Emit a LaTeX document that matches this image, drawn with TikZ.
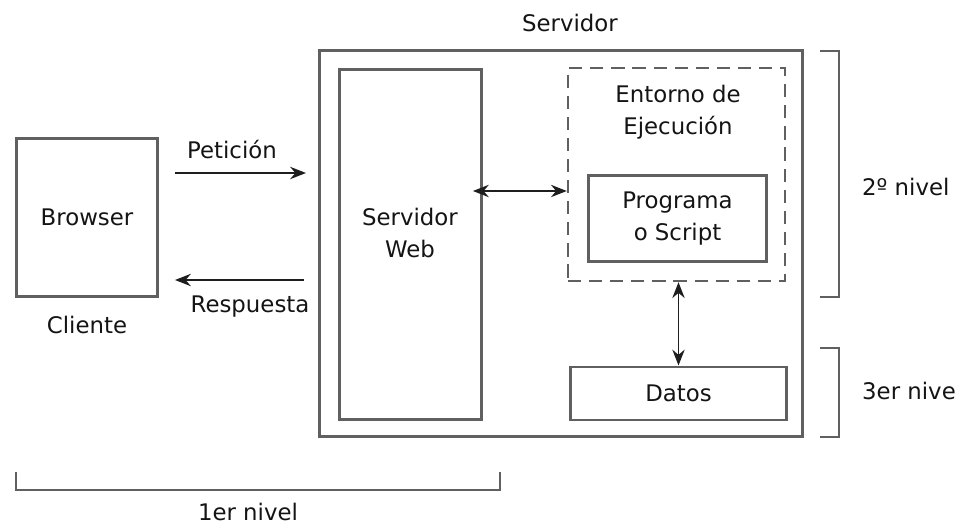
\documentclass[tikz,border=0pt]{standalone}
\usepackage{fontspec}
\setmainfont{DejaVu Sans}
\usepackage{xcolor}
\usetikzlibrary{arrows.meta}
\definecolor{boxgray}{RGB}{96, 96, 96}
\definecolor{txtgray}{RGB}{20, 20, 20}
\definecolor{arrgray}{RGB}{30, 30, 30}

\begin{document}
\begin{tikzpicture}[x=0.02cm, y=-0.02cm,
  every node/.style={font=\fontsize{13}{18}\selectfont, text=txtgray},
  box/.style={draw=boxgray, line width=1.7pt, inner sep=0pt, rectangle},
  envbox/.style={draw=boxgray, line width=1.4pt, dash pattern=on 7.5pt off 4.5pt, inner sep=0pt},
  flow/.style={draw=arrgray, line width=1.1pt, -{Stealth[length=9pt, width=7pt]}},
  dflow/.style={draw=arrgray, line width=1.1pt, {Stealth[length=9pt, width=7pt]}-{Stealth[length=9pt, width=7pt]}},
  brace/.style={draw=boxgray, line width=1.6pt}]
\useasboundingbox (0,0) rectangle (958,527);

% Cliente
\node[box, minimum width=2.84cm, minimum height=3.18cm] (browser) at (87,217.5) {Browser};
\node (cliente) at (87,325) {Cliente};

% Servidor
\node[box, minimum width=9.68cm, minimum height=7.74cm] (servidor) at (561,243.5) {};
\node (servlbl) at (570,23) {Servidor};
\node[box, minimum width=2.86cm, minimum height=7.02cm] (web) at (410.5,244.5) {};
\node[align=center] (weblbl) at (410,233) {Servidor\\Web};
\node[envbox, minimum width=4.34cm, minimum height=4.26cm] (entorno) at (676.5,174.5) {};
\node[align=center] (entlbl) at (678,112) {Entorno de\\Ejecución};
\node[box, minimum width=3.58cm, minimum height=1.74cm, align=center] (prog) at (677.5,218.5) {Programa\\o Script};
\node[box, minimum width=4.34cm, minimum height=1.06cm] (datos) at (678.5,393.5) {Datos};

% Peticion / Respuesta
\coordinate (pet1) at (175,173);
\coordinate (pet2) at (306,173);
\coordinate (res1) at (304,280);
\coordinate (res2) at (175,280);
\draw[flow] (pet1) -- (pet2);
\node (petlbl) at (232,150) {Petición};
\draw[flow] (res1) -- (res2);
\node (reslbl) at (250,307) {Respuesta};

% Servidor Web <-> Entorno, Entorno <-> Datos
\draw[dflow, shorten <=-6pt] (web.east |- 0,191) -- (entorno.west |- 0,191);
\draw[dflow] (entorno.south -| datos.north) -- (datos.north);

% Niveles
\draw[brace] (820,51) -- (839,51) -- (839,297) -- (820,297);
\node[anchor=west] (niv2) at (856,187) {2º nivel};
\draw[brace] (820,348) -- (839,348) -- (839,437) -- (820,437);
\node[anchor=west] (niv3) at (856,391) {3er nive};
\draw[brace] (16,472) -- (16,490) -- (500,490) -- (500,472);
\node (niv1) at (248,512) {1er nivel};
\end{tikzpicture}
\end{document}
